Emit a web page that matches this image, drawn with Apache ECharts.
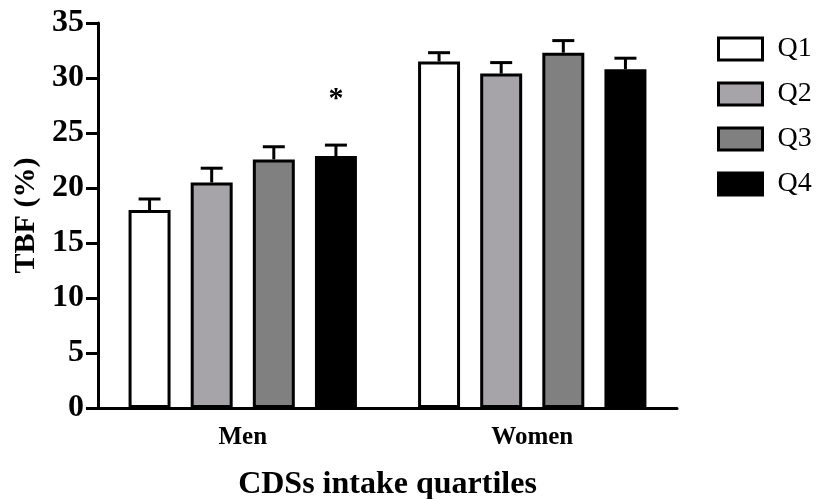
<!DOCTYPE html>
<html>
<head>
<meta charset="utf-8">
<script src="https://cdn.jsdelivr.net/npm/echarts@6/dist/echarts.min.js"></script>
<style>
  html, body { margin: 0; padding: 0; background: #fff; }
  #chart { width: 819px; height: 499px; }
</style>
</head>
<body>
<div id="chart"></div>
<script>
const categories = ['Men', 'Women'];
const quartiles = ['Q1', 'Q2', 'Q3', 'Q4'];
const q1Mean = [18.0, 31.5];
const q1Err = [1.0, 0.8];
const q2Mean = [20.5, 30.4];
const q2Err = [1.3, 1.0];
const q3Mean = [22.6, 32.3];
const q3Err = [1.15, 1.1];
const q4Mean = [22.9, 30.8];
const q4Err = [1.0, 1.0];
const q4Marks = ['*', ''];

const means = [q1Mean, q2Mean, q3Mean, q4Mean];
const errs = [q1Err, q2Err, q3Err, q4Err];
const marks = [['', ''], ['', ''], ['', ''], q4Marks];
const fills = ['#ffffff', '#a6a4a9', '#808080', '#000000'];

const FONT = 'Liberation Serif';
const BAR_W = 0.145;  // fraction of the category band
const BAR_GAP = 0.48; // fraction of bar width

const chart = echarts.init(document.getElementById('chart'));

let series = [];
quartiles.forEach((q, i) => {
  series.push({
    name: q,
    type: 'bar',
    barWidth: (BAR_W * 100) + '%',
    barGap: (BAR_GAP * 100) + '%',
    itemStyle: { color: fills[i], borderColor: '#000', borderWidth: 3 },
    data: means[i]
  });
});

quartiles.forEach((q, i) => {
  series.push({
    type: 'custom',
    z: 5,
    silent: true,
    data: categories.map((c, k) => [k, means[i][k], errs[i][k], marks[i][k]]),
    renderItem: (params, api) => {
      const k = api.value(0);
      const band = api.size([1, 0])[0];
      const bw = band * BAR_W;
      const offset = (i - 1.5) * bw * (1 + BAR_GAP);
      const base = api.coord([k, api.value(1)]);
      const top = api.coord([k, api.value(1) + api.value(2)]);
      const x = base[0] + offset;
      const cap = 11;
      const style = { stroke: '#000', lineWidth: 3 };
      const children = [
        { type: 'line', shape: { x1: x, y1: base[1], x2: x, y2: top[1] }, style: style },
        { type: 'line', shape: { x1: x - cap, y1: top[1], x2: x + cap, y2: top[1] }, style: style }
      ];
      const mark = marks[i][k];
      if (mark) {
        children.push({
          type: 'text',
          style: {
            text: mark, x: x, y: top[1] - 46,
            align: 'center', verticalAlign: 'middle',
            font: 'bold 30px ' + FONT, fill: '#000'
          }
        });
      }
      return { type: 'group', children: children };
    }
  });
});

const option = {
  animation: false,
  backgroundColor: '#fff',
  grid: { left: 98, right: 142, top: 23, bottom: 91, outerBoundsMode: 'none', containLabel: false },
  legend: {
    data: quartiles,
    orient: 'vertical',
    left: 712,
    top: 30,
    icon: 'rect',
    itemWidth: 44,
    itemHeight: 22,
    itemGap: 17,
    itemStyle: { borderColor: '#000', borderWidth: 3 },
    textStyle: { fontFamily: FONT, fontSize: 28, color: '#000', padding: [0, 0, 0, 10] }
  },
  xAxis: {
    type: 'category',
    data: categories,
    name: 'CDSs intake quartiles',
    nameLocation: 'middle',
    nameGap: 61,
    nameTextStyle: { fontFamily: FONT, fontSize: 32, fontWeight: 'bold', color: '#000' },
    axisLine: { lineStyle: { color: '#000', width: 3 } },
    axisTick: { alignWithLabel: true, length: 11, lineStyle: { color: '#000', width: 3 } },
    axisLabel: { fontFamily: FONT, fontSize: 25, fontWeight: 'bold', color: '#000', margin: 17 }
  },
  yAxis: {
    type: 'value',
    min: 0,
    max: 35,
    interval: 5,
    name: 'TBF (%)',
    nameLocation: 'middle',
    nameGap: 53,
    nameRotate: 90,
    nameTextStyle: { fontFamily: FONT, fontSize: 30, fontWeight: 'bold', color: '#000' },
    axisLine: { show: true, lineStyle: { color: '#000', width: 3 } },
    axisTick: { show: true, length: 12, lineStyle: { color: '#000', width: 3 } },
    axisLabel: { fontFamily: FONT, fontSize: 32, fontWeight: 'bold', color: '#000', margin: 14 },
    splitLine: { show: false }
  },
  series: series
};

chart.setOption(option);
</script>
</body>
</html>
